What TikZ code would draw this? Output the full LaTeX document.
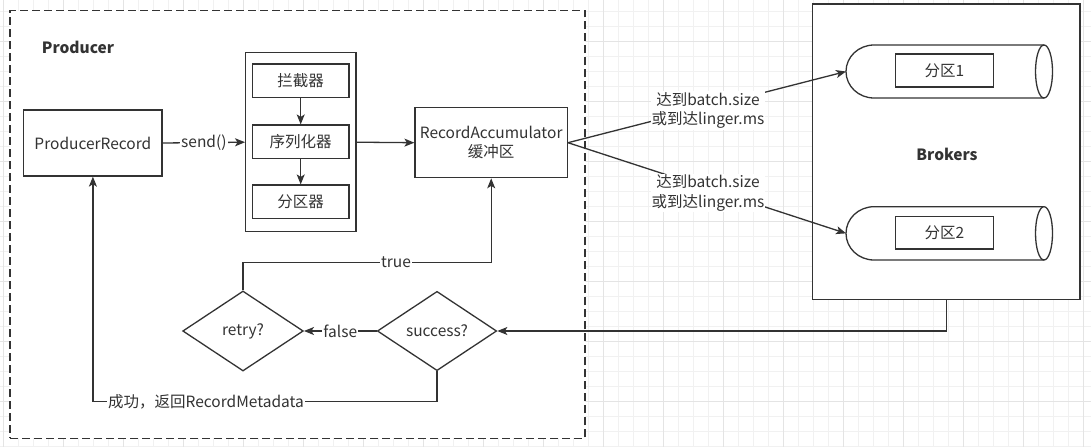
\documentclass[tikz,border=0pt]{standalone}
\usepackage{fontspec}
\setmainfont{Noto Sans CJK SC}
\usetikzlibrary{shapes.geometric,arrows.meta}
\definecolor{ln}{HTML}{333333}
\definecolor{tx}{HTML}{333333}
\definecolor{gmin}{HTML}{F1F1F1}
\definecolor{gmaj}{HTML}{E4E4E4}
\begin{document}
\begin{tikzpicture}[x=1pt,y=-1pt,
  every node/.style={font=\fontsize{15.5}{19.5}\selectfont, text=tx},
  box/.style={draw=ln, line width=1.3pt, fill=white, rectangle, inner sep=0pt},
  dia/.style={draw=ln, line width=1.3pt, fill=white, diamond, inner sep=0pt, aspect=1.5},
  conn/.style={draw=ln, line width=1.3pt},
  arr/.style={conn, -{Stealth[length=10pt,width=8pt,inset=2.5pt]}},
  lbl/.style={fill=white, inner sep=1pt, align=center},
  gridmin/.style={draw=gmin, line width=1pt},
  gridmaj/.style={draw=gmaj, line width=1pt},
]
\useasboundingbox (0,0) rectangle (1091,447);
\fill[white] (0,0) rectangle (1091,447);
% grid
\foreach \i in {0,...,72} { \draw[gridmin] ({3.3+15*\i},0) -- ({3.3+15*\i},447); }
\foreach \j in {0,...,29} { \draw[gridmin] (0,{11+15*\j}) -- (1091,{11+15*\j}); }
\foreach \i in {0,...,18} { \draw[gridmaj] ({3.3+60*\i},0) -- ({3.3+60*\i},447); }
\foreach \j in {0,...,7} { \draw[gridmaj] (0,{41+60*\j}) -- (1091,{41+60*\j}); }

% producer container
\node[draw=ln, line width=1.3pt, dash pattern=on 8pt off 4pt, fill=white, rectangle, inner sep=0pt,
      minimum width=575pt, minimum height=427.6pt] (pgrp) at (297.5,224.5) {};
\node[font=\fontsize{15.5}{19.5}\selectfont\bfseries] (ptitle) at (78,47.3) {Producer};

% brokers container
\node[box, minimum width=267.3pt, minimum height=295.3pt] (brk) at (946.4,151.7) {};
\node[font=\fontsize{15.5}{19.5}\selectfont\bfseries] (btitle) at (947,154) {Brokers};

% cylinders
\draw[conn, fill=white] (1044,45) -- (874,45) arc[start angle=-90, end angle=-270, x radius=28, y radius=26.5] -- (1044,98);
\draw[conn, fill=white] (1044,71.5) ellipse[x radius=8.5, y radius=26.5];
\draw[conn, fill=white] (1044,206.7) -- (874,206.7) arc[start angle=-90, end angle=-270, x radius=28, y radius=26.65] -- (1044,260);
\draw[conn, fill=white] (1044,233.35) ellipse[x radius=8.5, y radius=26.65];
\coordinate (c1) at (846,71.5);
\coordinate (c2) at (846,233.35);
\node[box, minimum width=97.6pt, minimum height=33pt] (p1) at (944.5,70.5) {分区1};
\node[box, minimum width=97.6pt, minimum height=32.3pt] (p2) at (944.5,232.8) {分区2};

% producer internals
\node[box, minimum width=138.3pt, minimum height=66pt] (prod) at (92.9,143) {ProducerRecord};
\node[box, minimum width=110.3pt, minimum height=179pt] (grp) at (300.85,142.2) {};
\node[box, minimum width=96.7pt, minimum height=33.3pt] (lj) at (300.7,80.7) {拦截器};
\node[box, minimum width=96.7pt, minimum height=33.3pt] (xlh) at (300.7,141.7) {序列化器};
\node[box, minimum width=96.7pt, minimum height=33.3pt] (fqq) at (300.7,201.7) {分区器};
\node[box, minimum width=152.3pt, minimum height=70pt, align=center] (ra) at (491.2,142.7) {RecordAccumulator\\缓冲区};
\node[dia, minimum width=120.6pt, minimum height=80pt] (ret) at (243,331) {retry?};
\node[dia, minimum width=119.4pt, minimum height=79.3pt] (suc) at (437,331) {success?};

% connectors
\draw[arr] (prod.east) -- node[lbl] {send()} (grp.west);
\draw[arr] (lj.south) -- (xlh.north);
\draw[arr] (xlh.south) -- (fqq.north);
\draw[arr] (grp.east) -- (ra.west);
\draw[arr] (ra.east) -- (c1);
\draw[arr] (ra.east) -- (c2);
\node[lbl] (l1) at (708,110.5) {达到batch.size\\或到达linger.ms};
\node[lbl] (l2) at (708,193) {达到batch.size\\或到达linger.ms};
\draw[arr] (brk.south) |- (suc.east);
\draw[arr] (suc.west) -- node[lbl] {false} (ret.east);
\coordinate (tc) at (243,262.3);
\draw[arr] (ret.north) -- (tc) -| (ra.south);
\node[lbl] (tl) at (396,262.3) {true};
\coordinate (bc) at (437,401.7);
\draw[arr] (suc.south) -- (bc) -| (prod.south);
\node[lbl] (bl) at (206,401.7) {成功，返回RecordMetadata};
\end{tikzpicture}
\end{document}
